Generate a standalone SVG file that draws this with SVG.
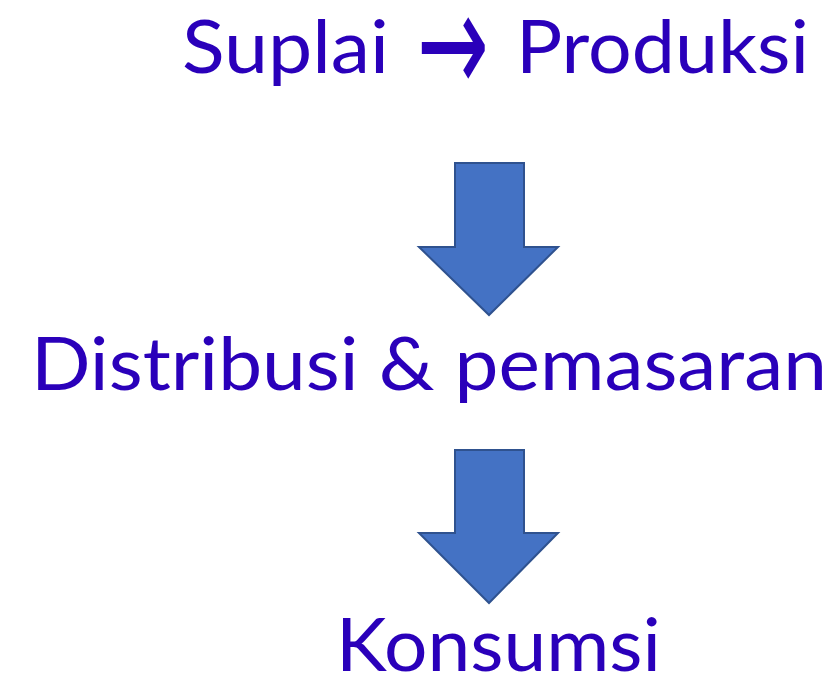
<svg xmlns="http://www.w3.org/2000/svg" width="839" height="677" viewBox="0 0 839 677">
<style>
.t{font-family:Lato,"Open Sans","Liberation Sans",sans-serif;font-size:73px;fill:#2A00BA}
.sym{font-family:"DejaVu Sans",sans-serif;font-size:72px;fill:#2A00BA}
.arr{fill:#4472C4;stroke:#2F528F;stroke-width:2;stroke-linejoin:miter}
</style>
<rect width="839" height="677" fill="#FFFFFF"/>
<g id="node-suplai-produksi">
<text class="t" x="182" y="73" textLength="207" lengthAdjust="spacingAndGlyphs">Suplai</text>
<text class="sym" x="417" y="73" textLength="72" lengthAdjust="spacingAndGlyphs" transform="translate(0,47) scale(1,2) translate(0,-50)">→</text>
<text class="t" x="516" y="73" textLength="293" lengthAdjust="spacingAndGlyphs">Produksi</text>
</g>
<g id="node-distribusi">
<text class="t" x="31" y="390" textLength="796" lengthAdjust="spacingAndGlyphs">Distribusi &amp; pemasaran</text>
</g>
<g id="node-konsumsi">
<text class="t" x="336" y="671" textLength="325" lengthAdjust="spacingAndGlyphs">Konsumsi</text>
</g>
<g id="connectors">
<polygon class="arr" points="455,163 524,163 524,247 558,247 489,315 419,247 455,247"/>
<polygon class="arr" points="455,450 524,450 524,533 558,533 489,603 419,533 455,533"/>
</g>
</svg>
